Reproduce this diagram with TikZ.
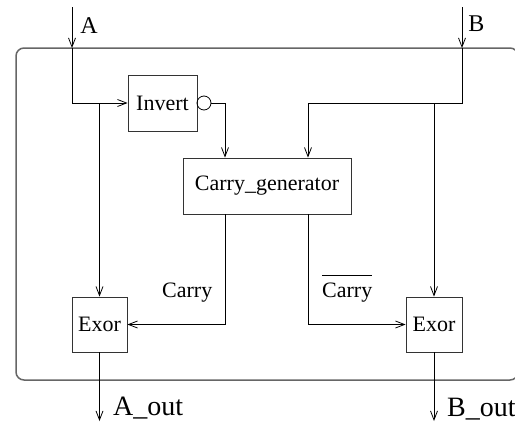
\documentclass[tikz,border=0pt]{standalone}
\usepackage{fontspec}
\setmainfont{Liberation Serif}
\usetikzlibrary{arrows.meta}
\tikzset{
  arr/.style={line width=0.8pt,-{Straight Barb[length=9pt,width=7pt,line width=0.8pt]}},
  wire/.style={line width=0.8pt},
  box/.style={draw=black!80, line width=0.8pt, inner sep=0pt, font=\fontsize{22}{26}\selectfont},
  lab/.style={inner sep=0pt, font=\fontsize{22}{26}\selectfont},
  inlab/.style={inner sep=0pt, font=\fontsize{24}{28}\selectfont},
  outlab/.style={inner sep=0pt, font=\fontsize{28}{32}\selectfont}
}
\begin{document}
\begin{tikzpicture}[x=1pt,y=-1pt]
\useasboundingbox (0,0) rectangle (515,423);
\begin{scope}
\clip (0,0) rectangle (515,423);
\draw[black!60, line width=1.5pt, rounded corners=8pt] (16,48) rectangle (518,380);
\end{scope}

\node[box, minimum width=69pt, minimum height=56pt] (inv) at (162.5,103) {Invert};
\node[draw, circle, line width=0.8pt, minimum size=14pt, inner sep=0pt] (bub) at (204,103) {};
\node[box, minimum width=168pt, minimum height=56pt] (cg) at (267,186) {Carry\_generator};
\node[box, minimum width=55pt, minimum height=55pt] (xl) at (99.5,324.5) {Exor};
\node[box, minimum width=56pt, minimum height=55pt] (xr) at (434,324.5) {Exor};

\coordinate (ain) at (72,7);
\coordinate (aentry) at (72,48);
\coordinate (bin) at (462,7);
\coordinate (bentry) at (462,48);
\coordinate (aout) at (99.5,421);
\coordinate (bout) at (434,421);

\draw[arr] (ain) -- (aentry);
\draw[arr] (aentry) |- (inv.west);
\draw[arr] (xl.north |- inv.west) -- (xl.north);
\draw[arr] (bub.east) -| ([xshift=-42pt]cg.north);
\draw[arr] (bin) -- (bentry);
\draw[arr] (bentry) -- (bentry |- inv.east) -| ([xshift=41pt]cg.north);
\draw[arr] (xr.north |- inv.east) -- (xr.north);
\draw[arr] ([xshift=-42pt]cg.south) |- (xl.east);
\draw[arr] ([xshift=41pt]cg.south) |- (xr.west);
\draw[arr] (xl.south) -- (aout);
\draw[arr] (xr.south) -- (bout);

\node[inlab] (la) at (89,25.5) {A};
\node[inlab] (lb) at (476.5,24) {B};
\node[outlab, anchor=base west] (lao) at (113,415) {A\_out};
\node[outlab, anchor=base west] (lbo) at (447,416) {B\_out};
\node[lab, anchor=base west] (lc) at (162,297) {Carry};
\node[lab, anchor=base west] (lcb) at (322,297) {Carry};
\draw[wire] ([yshift=7pt]lcb.north west) -- ([yshift=7pt]lcb.north east);
\end{tikzpicture}
\end{document}
